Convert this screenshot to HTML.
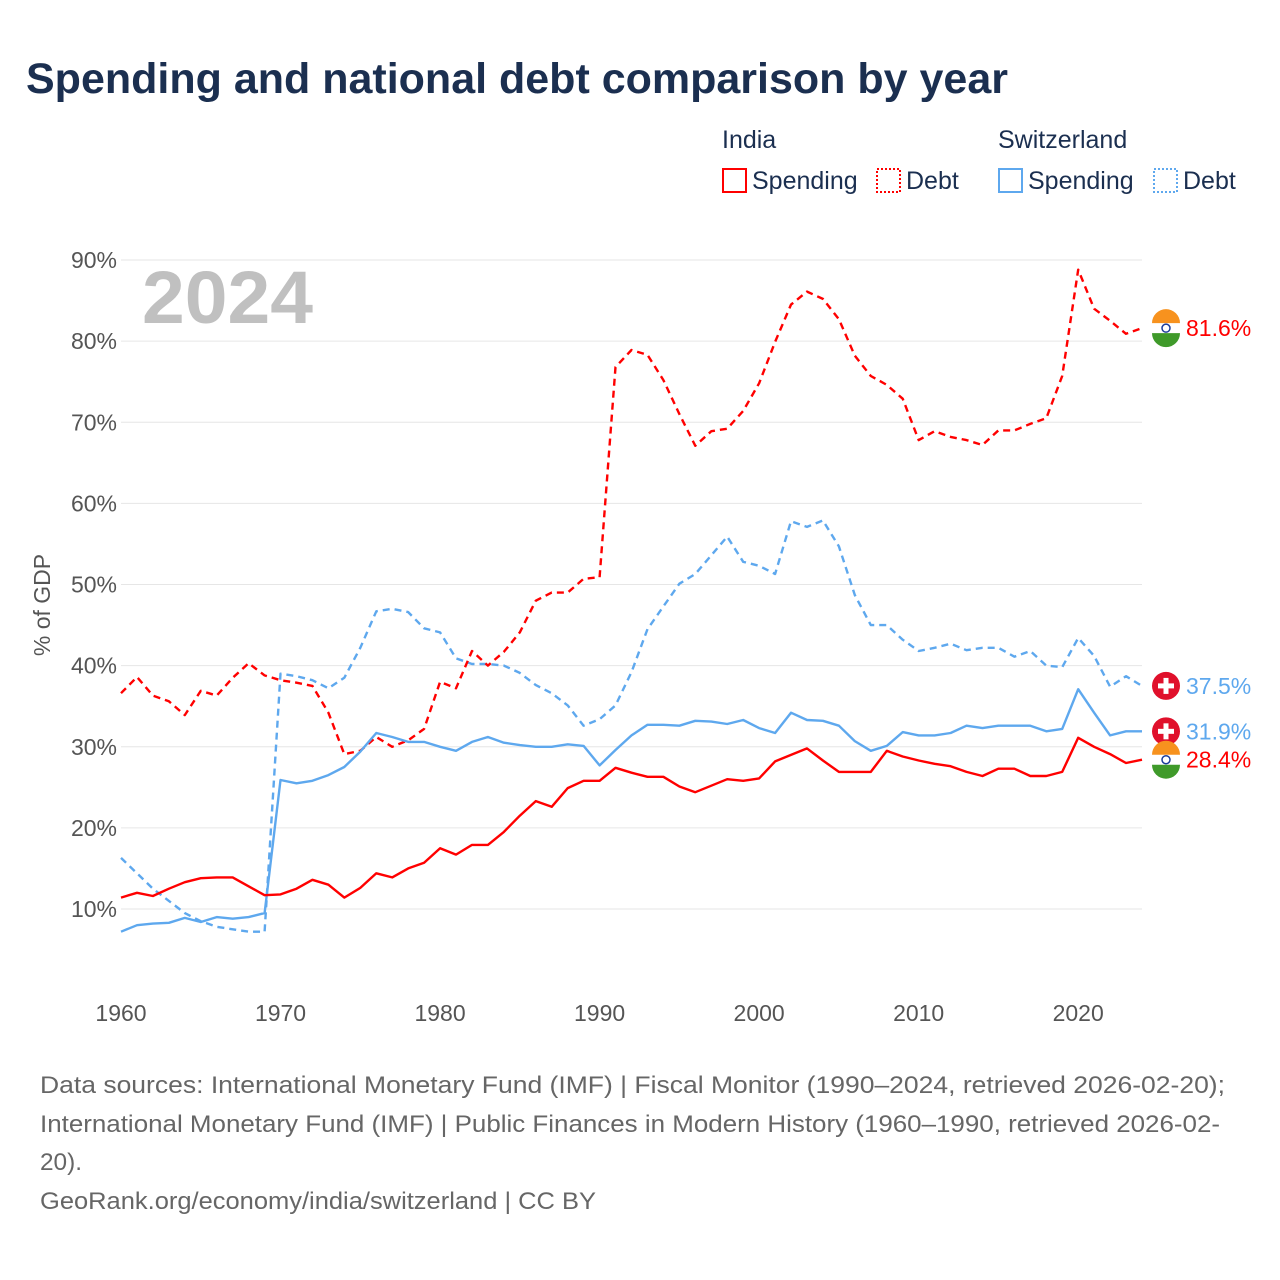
<!DOCTYPE html>
<html><head><meta charset="utf-8">
<style>
body{margin:0;background:#fff;font-family:"Liberation Sans",sans-serif;}
#wrap{position:relative;width:1280px;height:1280px;overflow:hidden;}
</style></head>
<body>
<div id="wrap">
<svg id="chart" width="1280" height="1280" xmlns="http://www.w3.org/2000/svg">
<text x="26" y="93" font-size="43" font-weight="bold" fill="#1b2f50">Spending and national debt comparison by year</text>
<g font-size="25" fill="#1b2f50">
<text x="722" y="148">India</text>
<text x="998" y="148">Switzerland</text>
<g><rect x="723" y="169" width="23" height="23" fill="none" stroke="#f00" stroke-width="2"/><text x="752" y="189">Spending</text></g>
<g><rect x="877" y="169" width="23" height="23" fill="none" stroke="#f00" stroke-width="2" stroke-dasharray="2,2"/><text x="906" y="189">Debt</text></g>
<g><rect x="999" y="169" width="23" height="23" fill="none" stroke="#5ea8ee" stroke-width="2"/><text x="1028" y="189">Spending</text></g>
<g><rect x="1154" y="169" width="23" height="23" fill="none" stroke="#5ea8ee" stroke-width="2" stroke-dasharray="2,2"/><text x="1183" y="189">Debt</text></g>
</g>
<text x="142" y="323" font-size="74" font-weight="bold" fill="#c0c0c0" textLength="171" lengthAdjust="spacingAndGlyphs">2024</text>
<text transform="translate(50,605) rotate(-90)" text-anchor="middle" font-size="23" fill="#555">% of GDP</text>
<g id="grid"></g><g id="series"></g><g id="labels"></g>
<g font-size="24" fill="#666">
<text x="40" y="1093" textLength="1185" lengthAdjust="spacingAndGlyphs">Data sources: International Monetary Fund (IMF) | Fiscal Monitor (1990–2024, retrieved 2026-02-20);</text>
<text x="40" y="1132" textLength="1180" lengthAdjust="spacingAndGlyphs">International Monetary Fund (IMF) | Public Finances in Modern History (1960–1990, retrieved 2026-02-</text>
<text x="40" y="1170" textLength="42" lengthAdjust="spacingAndGlyphs">20).</text>
<text x="40" y="1209" textLength="556" lengthAdjust="spacingAndGlyphs">GeoRank.org/economy/india/switzerland | CC BY</text>
</g>
</svg>
</div>
<script>
const years=[];for(let y=1960;y<=2024;y++)years.push(y);
const yTicks=[10,20,30,40,50,60,70,80,90];
const xTicks=[1960,1970,1980,1990,2000,2010,2020];
const indiaSpending=[11.4,12.0,11.6,12.5,13.3,13.8,13.9,13.9,12.8,11.7,11.8,12.5,13.6,13.0,11.4,12.6,14.4,13.9,15.0,15.7,17.5,16.7,17.9,17.9,19.5,21.5,23.3,22.6,24.9,25.8,25.8,27.4,26.8,26.3,26.3,25.1,24.4,25.2,26.0,25.8,26.1,28.2,29.0,29.8,28.3,26.9,26.9,26.9,29.5,28.8,28.3,27.9,27.6,26.9,26.4,27.3,27.3,26.4,26.4,26.9,31.1,30.0,29.1,28.0,28.4];
const indiaDebt=[36.6,38.6,36.3,35.6,33.9,36.9,36.3,38.5,40.3,38.8,38.2,37.9,37.5,34.2,29.1,29.5,31.2,30.0,30.8,32.2,38.0,37.2,41.8,40.0,41.7,44.1,48.0,49.0,49.0,50.7,50.9,76.8,78.9,78.3,75.2,71.0,67.1,68.9,69.2,71.4,74.8,79.9,84.5,86.1,85.2,82.7,78.2,75.7,74.6,72.9,67.8,68.9,68.2,67.8,67.2,69.0,69.0,69.8,70.5,75.7,88.8,84.0,82.5,80.9,81.6];
const swissSpending=[7.2,8.0,8.2,8.3,8.9,8.4,9.0,8.8,9.0,9.5,25.9,25.5,25.8,26.5,27.5,29.4,31.7,31.2,30.6,30.6,30.0,29.5,30.6,31.2,30.5,30.2,30.0,30.0,30.3,30.1,27.7,29.6,31.4,32.7,32.7,32.6,33.2,33.1,32.8,33.3,32.3,31.7,34.2,33.3,33.2,32.6,30.7,29.5,30.1,31.8,31.4,31.4,31.7,32.6,32.3,32.6,32.6,32.6,31.9,32.2,37.1,34.2,31.4,31.9,31.9];
const swissDebt=[16.3,14.4,12.5,11.0,9.5,8.5,7.8,7.5,7.2,7.2,39.0,38.7,38.2,37.2,38.5,42.2,46.7,47.0,46.6,44.6,44.1,40.9,40.2,40.2,40.0,39.1,37.6,36.6,35.1,32.6,33.4,35.1,39.2,44.5,47.3,50.1,51.3,53.6,55.9,52.8,52.3,51.3,57.8,57.1,57.9,54.7,48.7,45.0,45.0,43.2,41.8,42.2,42.7,41.9,42.2,42.2,41.1,41.8,40.0,39.8,43.4,41.2,37.4,38.7,37.5];
const NS="http://www.w3.org/2000/svg";
const X=y=>121+(y-1960)*(1142-121)/64;
const Y=v=>909-(v-10)*8.1125;
function mk(t,a,p){const e=document.createElementNS(NS,t);for(const k in a)e.setAttribute(k,a[k]);p.appendChild(e);return e;}
const grid=document.getElementById('grid');
yTicks.forEach(v=>{
 const l=mk('line',{x1:121,x2:1142,y1:Y(v),y2:Y(v),stroke:'#e6e6e6','stroke-width':1},grid);
 
 
 const t=mk('text',{x:117,y:Y(v)+8,'text-anchor':'end','font-size':23,fill:'#555'},grid);
 t.textContent=v+'%';
 
 
});
xTicks.forEach(y=>{
 const t=mk('text',{x:X(y),y:1021,'text-anchor':'middle','font-size':23,fill:'#555'},grid);
 t.textContent=y;
 
 
});
const ser=document.getElementById('series');
function line(d,c,dash,name){
 const p=mk('path',{d:d.map((v,i)=>(i?'L':'M')+X(years[i]).toFixed(1)+','+Y(v).toFixed(1)).join(''),fill:'none',stroke:c,'stroke-width':2.4,'stroke-linejoin':'round'},ser);
 if(dash)p.setAttribute('stroke-dasharray','7,5');
 
 
}
line(swissDebt,'#5ea8ee',true,'switzerland-debt-line');
line(indiaDebt,'#f00',true,'india-debt-line');
line(swissSpending,'#5ea8ee',false,'switzerland-spending-line');
line(indiaSpending,'#f00',false,'india-spending-line');
const lab=document.getElementById('labels');
function flag(cy,country,val,color,name){
 const g=mk('g',{},lab);
 
 
 const cx=1166;
 if(country==='in'){
  mk('circle',{cx:cx,cy:cy,r:14,fill:'#fff'},g);
  mk('path',{d:`M${cx-14},${cy-5}A14,14 0 0 1 ${cx+14},${cy-5}Z`,fill:'#f7921e'},g);
  mk('path',{d:`M${cx-14},${cy+5}A14,14 0 0 0 ${cx+14},${cy+5}Z`,fill:'#3f9a2a'},g);
  mk('circle',{cx:cx,cy:cy,r:4,fill:'none',stroke:'#1a3c9a','stroke-width':1.5},g);
 }else{
  mk('circle',{cx:cx,cy:cy,r:14,fill:'#e0102b'},g);
  mk('rect',{x:cx-2.5,y:cy-8,width:5,height:16,fill:'#fff'},g);
  mk('rect',{x:cx-8,y:cy-2.5,width:16,height:5,fill:'#fff'},g);
 }
 const t=mk('text',{x:1186,y:cy+8,'font-size':23,fill:color},g);
 t.textContent=val.toFixed(1)+'%';
}
flag(Y(indiaDebt[64]),'in',indiaDebt[64],'#f00','label-india-debt');
flag(Y(swissDebt[64]),'ch',swissDebt[64],'#5ea8ee','label-switzerland-debt');
flag(Y(swissSpending[64]),'ch',swissSpending[64],'#5ea8ee','label-switzerland-spending');
flag(Y(indiaSpending[64]),'in',indiaSpending[64],'#f00','label-india-spending');
</script>
</body></html>
